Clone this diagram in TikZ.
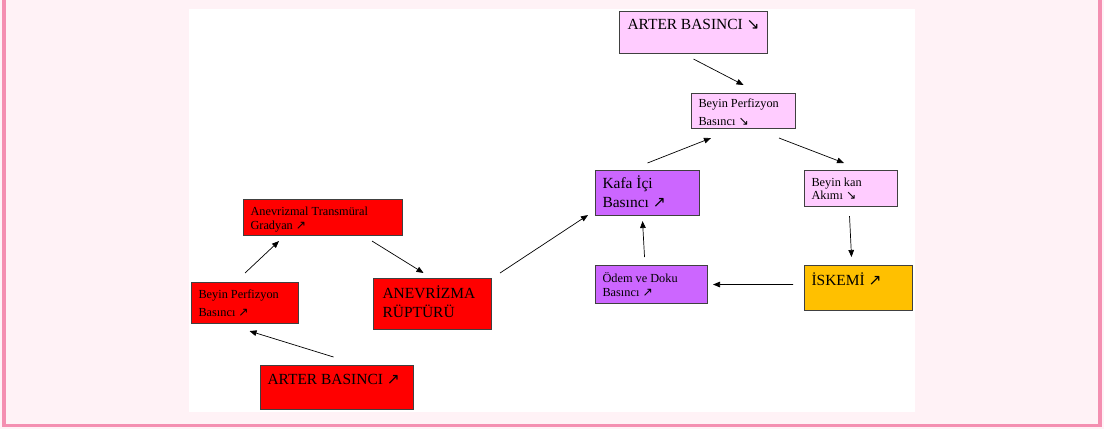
\documentclass[tikz,border=0pt]{standalone}
\usepackage{fontspec}
\setmainfont{Liberation Serif}
\newfontfamily\arrowfont{DejaVu Sans}
\usetikzlibrary{arrows.meta}
\definecolor{pagebg}{HTML}{FFF2F6}
\definecolor{frame}{HTML}{F48FB1}
\definecolor{boxred}{HTML}{FF0000}
\definecolor{boxpink}{HTML}{FFCCFF}
\definecolor{boxviolet}{HTML}{CC66FF}
\definecolor{boxgold}{HTML}{FFC000}
\definecolor{boxline}{HTML}{404040}
\newcommand{\incr}{{\arrowfont ↗}}
\newcommand{\decr}{{\arrowfont ↘}}
\newcommand{\boxtext}[3]{\parbox[c][#2][t]{#1}{#3}}
\begin{document}
\begin{tikzpicture}[x=0.02cm,y=-0.02cm]
                \tikzset{
                    box/.style={draw=boxline, line width=0.6pt, anchor=north west, inner xsep=0.14cm, inner ysep=0.15cm},
                    bigtxt/.style={font=\fontsize{8.8}{10.8}\selectfont},
                    smalltxt/.style={font=\fontsize{7}{7.6}\selectfont},
                    arc/.style={-{Triangle[length=4pt,width=3.2pt]}, line width=0.4pt}
                }
                
                \useasboundingbox (0,0) rectangle (1104,429);
                \fill[pagebg] (0,0) rectangle (1104,429);
                \fill[frame] (2,0) rectangle (6,427);
                \fill[frame] (1098,0) rectangle (1102,427);
                \fill[frame] (2,423.5) rectangle (1102,427);
                \fill[white] (189,9) rectangle (915,412);
                
                \draw node[box, fill=boxpink, bigtxt, inner xsep=0.16cm] (artTop) at (619,11) {\boxtext{2.64cm}{0.54cm}{ARTER BASINCI \decr}};
                \draw node[box, fill=boxpink, smalltxt, inner ysep=0.1cm] (perfTop) at (691,93) {\boxtext{1.8cm}{0.5cm}{Beyin Perfizyon\\[2.6pt]Basıncı \decr}};
                \draw node[box, fill=boxviolet, bigtxt, inner ysep=0.1cm] (kafa) at (595,170) {\boxtext{1.8cm}{0.7cm}{Kafa İçi\\Basıncı \incr}};
                \draw node[box, fill=boxpink, smalltxt, inner ysep=0.14cm] (kan) at (804,170) {\boxtext{1.58cm}{0.44cm}{Beyin kan\\Akımı \decr}};
                \draw node[box, fill=boxviolet, smalltxt] (odem) at (595,265) {\boxtext{1.96cm}{0.46cm}{Ödem ve Doku\\Basıncı \incr}};
                \draw node[box, fill=boxgold, bigtxt, inner ysep=0.14cm] (iskemi) at (804,265) {\boxtext{1.88cm}{0.62cm}{İSKEMİ \incr}};
                \draw node[box, fill=boxred, smalltxt] (grad) at (243,199) {\boxtext{2.9cm}{0.42cm}{Anevrizmal Transmüral\\[0.4pt]Gradyan \incr}};
                \draw node[box, fill=boxred, smalltxt] (perfL) at (191,282) {\boxtext{1.86cm}{0.52cm}{Beyin Perfizyon\\[2.6pt]Basıncı \incr}};
                \draw node[box, fill=boxred, bigtxt, inner xsep=0.18cm] (rupt) at (373,278) {\boxtext{2.0cm}{0.72cm}{ANEVRİZMA\\RÜPTÜRÜ}};
                \draw node[box, fill=boxred, bigtxt, inner ysep=0.17cm] (artBot) at (260,365) {\boxtext{2.78cm}{0.54cm}{ARTER BASINCI \incr}};
                
                \draw[arc] ([yshift=-0.1cm]artTop.south) -- ([yshift=0.16cm]perfTop.north);
                \draw[arc] ([yshift=0.14cm]kafa.north) -- ([xshift=0.4cm,yshift=-0.18cm]perfTop.south west);
                \draw[arc] ([xshift=-0.34cm,yshift=-0.18cm]perfTop.south east) -- ([xshift=-0.14cm,yshift=0.14cm]kan.north);
                \draw[arc] ([xshift=-0.03cm,yshift=-0.18cm]kan.south) -- ([xshift=-0.14cm,yshift=0.16cm]iskemi.north);
                \draw[arc] ([xshift=-0.22cm,yshift=0.07cm]iskemi.west) -- ([xshift=0.1cm]odem.east);
                \draw[arc] ([xshift=-0.14cm,yshift=0.16cm]odem.north) -- ([xshift=-0.1cm,yshift=-0.1cm]kafa.south);
                \draw[arc] ([xshift=0.16cm,yshift=0.1cm]rupt.north east) -- ([xshift=-0.14cm,yshift=0.02cm]kafa.south west);
                \draw[arc] ([xshift=-0.62cm,yshift=-0.1cm]grad.south east) -- ([xshift=-0.18cm,yshift=0.1cm]rupt.north);
                \draw[arc] ([yshift=0.18cm]perfL.north) -- ([xshift=0.72cm,yshift=-0.1cm]grad.south west);
                \draw[arc] ([xshift=-0.07cm,yshift=0.16cm]artBot.north) -- ([xshift=0.09cm,yshift=-0.14cm]perfL.south);
\end{tikzpicture}
\end{document}
